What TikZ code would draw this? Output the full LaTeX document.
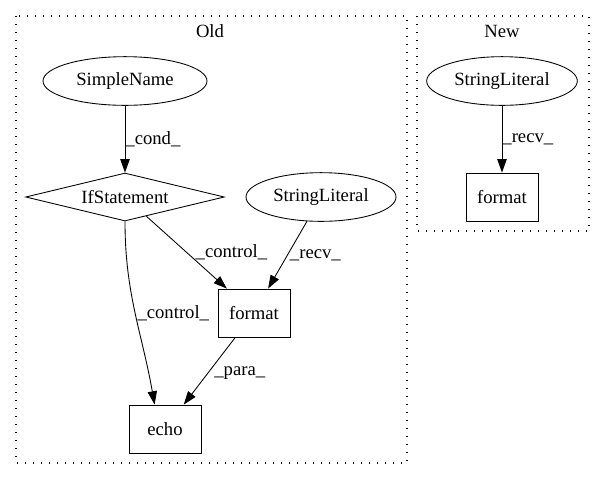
\documentclass[tikz,border=0pt]{standalone}
\usepackage{fontspec}
\setmainfont{Liberation Serif}
\usetikzlibrary{shapes.geometric,arrows.meta}

\begin{document}
\begin{tikzpicture}[x=0.75pt,y=-0.75pt,
		font=\fontsize{14}{16}\selectfont,
		line width=0.65pt,
		cluster/.style={draw, dash pattern=on 0.9pt off 5.1pt, line width=0.9pt},
		ellnode/.style={draw, ellipse, inner sep=0pt, minimum height=36.5pt},
		boxnode/.style={draw, rectangle, inner sep=0pt, minimum width=54pt, minimum height=36pt},
		ifnode/.style={draw, diamond, aspect=4, inner sep=0pt, minimum width=149pt, minimum height=36pt},
		edge/.style={-{Triangle[length=10pt,width=7pt]}},
		lbl/.style={anchor=west, inner sep=0pt}]
			\useasboundingbox (0,0) rectangle (604,480);
			\draw[cluster] (16,16) rectangle (407,463);
			\draw[cluster] (417,16) rectangle (589,231);
			\node (oldlbl) at (210,31) {Old};
			\node (newlbl) at (502,31) {New};
			\node[ellnode, minimum width=123pt] (simplename) at (125,81) {SimpleName};
			\node[ifnode] (ifstmt) at (125,197) {IfStatement};
			\node[ellnode, minimum width=112.5pt] (strlit) at (321,197) {StringLiteral};
			\node[boxnode] (format) at (254,313) {format};
			\node[boxnode] (echo) at (165,429) {echo};
			\node[ellnode, minimum width=113pt] (strlitnew) at (502,81) {StringLiteral};
			\node[boxnode] (formatnew) at (502,197) {format};
			\draw[edge] (simplename) -- (ifstmt) node[lbl, midway] (lcond) {\_cond\_};
			\draw[edge] (ifstmt) -- (format) node[lbl, pos=0.5, xshift=6.5pt] (lctrla) {\_control\_};
			\draw[edge] (strlit) -- (format) node[lbl, pos=0.5, xshift=1.5pt] (lrecv) {\_recv\_};
			\draw[edge] (ifstmt.south) to[out=-90, in=100] node[lbl, pos=0.5, xshift=1.5pt] (lctrlb) {\_control\_} (echo.113);
			\draw[edge] (format) -- (echo) node[lbl, pos=0.53, xshift=4.5pt] (lpara) {\_para\_};
			\draw[edge] (strlitnew) -- (formatnew) node[lbl, midway] (lrecvnew) {\_recv\_};
		\end{tikzpicture}
\end{document}
